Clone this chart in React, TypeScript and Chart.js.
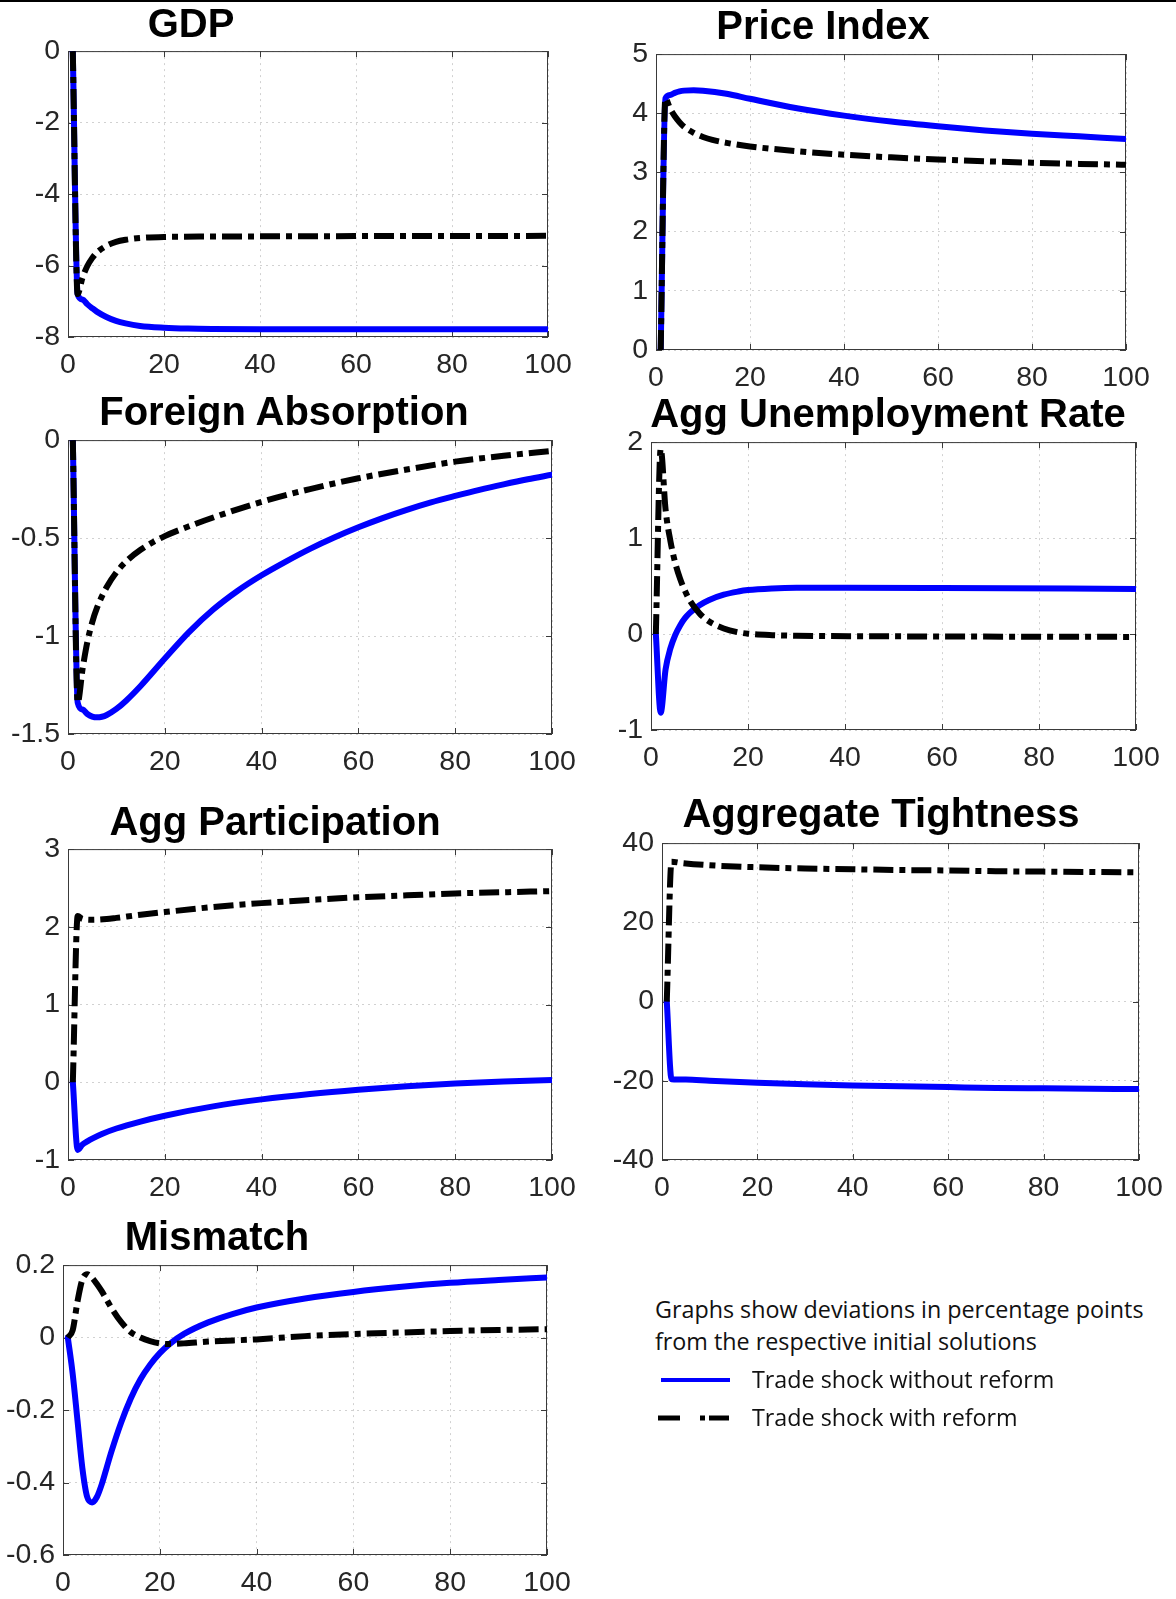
import React, { useEffect, useRef } from "react";
import { Chart, registerables } from "chart.js";

Chart.register(...registerables);

// ---------- DATA ----------
const xTicks = [0, 20, 40, 60, 80, 100];

const gdpYTicks = [-8, -6, -4, -2, 0];
const gdpBlueX = [1, 2, 3, 4, 5, 6, 8, 10, 12, 15, 20, 25, 30, 40, 100];
const gdpBlueY = [0, -6.8, -6.95, -7.08, -7.19, -7.29, -7.44, -7.55, -7.62, -7.69, -7.74, -7.765, -7.775, -7.78, -7.78];
const gdpBlackX = [1, 2, 3, 4, 5, 6, 8, 10, 12, 15, 20, 30, 50, 100];
const gdpBlackY = [0, -6.8, -6.35, -6.02, -5.8, -5.64, -5.45, -5.34, -5.28, -5.23, -5.2, -5.19, -5.18, -5.17];

const priceYTicks = [0, 1, 2, 3, 4, 5];
const priceBlueX = [1, 2, 3, 4, 5, 6, 8, 10, 15, 20, 30, 40, 50, 60, 70, 80, 90, 100];
const priceBlueY = [0, 4.25, 4.31, 4.345, 4.37, 4.383, 4.39, 4.382, 4.33, 4.245, 4.085, 3.96, 3.86, 3.78, 3.71, 3.655, 3.61, 3.565];
const priceBlackX = [1, 2, 3, 4, 5, 6, 8, 10, 12, 15, 20, 30, 40, 50, 60, 70, 80, 90, 100];
const priceBlackY = [0, 4.25, 4.08, 3.95, 3.85, 3.77, 3.67, 3.6, 3.55, 3.5, 3.44, 3.36, 3.3, 3.255, 3.22, 3.19, 3.165, 3.145, 3.13];

const faYTicks = [-1.5, -1, -0.5, 0];
const faBlueX = [1, 2, 3, 4, 5, 6, 7, 8, 10, 12, 15, 20, 25, 30, 35, 40, 45, 50, 55, 60, 65, 70, 75, 80, 85, 90, 95, 100];
const faBlueY = [0, -1.34, -1.375, -1.398, -1.411, -1.415, -1.412, -1.403, -1.372, -1.33, -1.255, -1.115, -0.98, -0.865, -0.77, -0.69, -0.62, -0.555, -0.497, -0.445, -0.398, -0.356, -0.318, -0.285, -0.254, -0.226, -0.2, -0.177];
const faBlackX = [1, 2, 3, 4, 5, 6, 8, 10, 12, 15, 20, 25, 30, 40, 50, 60, 70, 80, 90, 100];
const faBlackY = [0, -1.34, -1.17, -1.03, -0.93, -0.855, -0.75, -0.675, -0.62, -0.56, -0.49, -0.44, -0.395, -0.315, -0.25, -0.195, -0.15, -0.11, -0.08, -0.055];

const urYTicks = [-1, 0, 1, 2];
const urBlueX = [1, 2, 3, 4, 5, 6, 7, 8, 10, 12, 15, 18, 20, 25, 30, 40, 60, 100];
const urBlueY = [0, -0.82, -0.37, -0.15, -0.01, 0.09, 0.165, 0.22, 0.3, 0.355, 0.41, 0.443, 0.458, 0.475, 0.482, 0.483, 0.48, 0.47];
const urBlackX = [1, 2, 3, 4, 5, 6, 7, 8, 10, 12, 15, 18, 20, 25, 30, 50, 100];
const urBlackY = [0, 1.93, 1.3, 0.97, 0.74, 0.575, 0.45, 0.35, 0.215, 0.13, 0.058, 0.018, 0.003, -0.012, -0.018, -0.024, -0.03];

const apYTicks = [-1, 0, 1, 2, 3];
const apBlueX = [1, 2, 3, 4, 5, 7, 10, 15, 20, 30, 40, 50, 60, 70, 80, 90, 100];
const apBlueY = [0, -0.87, -0.8, -0.76, -0.725, -0.665, -0.595, -0.505, -0.43, -0.31, -0.22, -0.15, -0.095, -0.05, -0.015, 0.01, 0.03];
const apBlackX = [1, 2, 3, 5, 8, 10, 15, 20, 30, 40, 50, 60, 70, 80, 90, 100];
const apBlackY = [0, 2.14, 2.1, 2.09, 2.1, 2.115, 2.155, 2.19, 2.255, 2.305, 2.345, 2.38, 2.405, 2.43, 2.445, 2.46];

const atYTicks = [-40, -20, 0, 20, 40];
const atBlueX = [1, 2, 5, 10, 20, 30, 40, 50, 60, 70, 80, 90, 100];
const atBlueY = [0, -19.6, -19.7, -20.0, -20.5, -20.9, -21.2, -21.4, -21.6, -21.8, -21.9, -22.0, -22.1];
const atBlackX = [1, 2, 4, 10, 20, 30, 40, 50, 60, 70, 80, 90, 100];
const atBlackY = [0, 35.3, 35.0, 34.4, 33.9, 33.6, 33.4, 33.2, 33.1, 32.9, 32.8, 32.7, 32.6];

const mmYTicks = [-0.6, -0.4, -0.2, 0, 0.2];
const mmBlueX = [1, 2, 3, 4, 5, 6, 7, 8, 9, 10, 12, 14, 16, 18, 20, 22, 25, 30, 35, 40, 50, 60, 70, 80, 90, 100];
const mmBlueY = [0, -0.1, -0.23, -0.36, -0.44, -0.455, -0.44, -0.405, -0.36, -0.315, -0.235, -0.168, -0.115, -0.075, -0.043, -0.018, 0.01, 0.042, 0.065, 0.083, 0.108, 0.126, 0.14, 0.151, 0.159, 0.166];
const mmBlackX = [1, 2, 3, 4, 5, 6, 7, 8, 10, 12, 14, 16, 18, 20, 22, 25, 30, 40, 50, 60, 70, 80, 90, 100];
const mmBlackY = [0, 0.02, 0.1, 0.16, 0.175, 0.165, 0.148, 0.128, 0.082, 0.043, 0.015, 0.0, -0.01, -0.016, -0.018, -0.016, -0.011, -0.005, 0.004, 0.01, 0.014, 0.018, 0.021, 0.023];

const legendNote = ["Graphs show deviations in percentage points", "from the respective initial solutions"];
const seriesNames = ["Trade shock without reform", "Trade shock with reform"];

// ---------- LAYOUT ----------
type Panel = {
  title: string;
  tx: number;
  ty: number;
  L: number;
  T: number;
  R: number;
  B: number;
  yTicks: number[];
  bx: number[];
  by: number[];
  kx: number[];
  ky: number[];
};

const panels: Panel[] = [
  { title: "GDP", tx: 191, ty: 23, L: 68, T: 51, R: 548, B: 337, yTicks: gdpYTicks, bx: gdpBlueX, by: gdpBlueY, kx: gdpBlackX, ky: gdpBlackY },
  { title: "Price Index", tx: 823, ty: 25, L: 656, T: 54, R: 1126, B: 350, yTicks: priceYTicks, bx: priceBlueX, by: priceBlueY, kx: priceBlackX, ky: priceBlackY },
  { title: "Foreign Absorption", tx: 284, ty: 411, L: 68, T: 440, R: 552, B: 734, yTicks: faYTicks, bx: faBlueX, by: faBlueY, kx: faBlackX, ky: faBlackY },
  { title: "Agg Unemployment Rate", tx: 888, ty: 413, L: 651, T: 442, R: 1136, B: 730, yTicks: urYTicks, bx: urBlueX, by: urBlueY, kx: urBlackX, ky: urBlackY },
  { title: "Agg Participation", tx: 275, ty: 821, L: 68, T: 849, R: 552, B: 1160, yTicks: apYTicks, bx: apBlueX, by: apBlueY, kx: apBlackX, ky: apBlackY },
  { title: "Aggregate Tightness", tx: 881, ty: 813, L: 662, T: 843, R: 1139, B: 1160, yTicks: atYTicks, bx: atBlueX, by: atBlueY, kx: atBlackX, ky: atBlackY },
  { title: "Mismatch", tx: 217, ty: 1236, L: 63, T: 1265, R: 547, B: 1555, yTicks: mmYTicks, bx: mmBlueX, by: mmBlueY, kx: mmBlackX, ky: mmBlackY },
];

const PADL = 90;
const PADT = 25;
const PADR = 36;
const PADB = 44;

const TICK_FONT = { family: '"Liberation Sans", Arial, Helvetica, sans-serif', size: 28.5 };
const TICK_COLOR = "#262626";
const DASHDOT = [20, 6, 6, 6];
const LINE_W = 6;

const framePlugin = {
  id: "matlabFrame",
  beforeDatasetsDraw(chart: any) {
    const { ctx, chartArea } = chart;
    const { left, top, right, bottom } = chartArea;
    const xs = chart.scales.x;
    const ys = chart.scales.y;
    ctx.save();
    ctx.setLineDash([]);
    ctx.strokeStyle = "#3a3a3a";
    ctx.lineWidth = 1;
    ctx.strokeRect(left + 0.5, top + 0.5, right - left - 1, bottom - top - 1);
    const tl = 6;
    ctx.beginPath();
    xs.ticks.forEach((t: any) => {
      const px = Math.round(xs.getPixelForValue(t.value)) + 0.5;
      ctx.moveTo(px, bottom);
      ctx.lineTo(px, bottom - tl);
      ctx.moveTo(px, top);
      ctx.lineTo(px, top + tl);
    });
    ys.ticks.forEach((t: any) => {
      const py = Math.round(ys.getPixelForValue(t.value)) + 0.5;
      ctx.moveTo(left, py);
      ctx.lineTo(left + tl, py);
      ctx.moveTo(right, py);
      ctx.lineTo(right - tl, py);
    });
    ctx.stroke();
    ctx.restore();
  },
};

function toPoints(xs: number[], ys: number[]) {
  return xs.map((x, i) => ({ x, y: ys[i] }));
}

function PanelChart({ p }: { p: Panel }) {
  const ref = useRef<HTMLCanvasElement | null>(null);
  const w = p.R - p.L + PADL + PADR;
  const h = p.B - p.T + PADT + PADB;
  useEffect(() => {
    if (!ref.current) return;
    const yMin = p.yTicks[0];
    const yMax = p.yTicks[p.yTicks.length - 1];
    const chart = new Chart(ref.current, {
      type: "line",
      data: {
        datasets: [
          {
            label: seriesNames[1],
            data: toPoints(p.kx, p.ky),
            borderColor: "#000000",
            borderWidth: LINE_W,
            borderDash: DASHDOT,
            borderCapStyle: "butt",
            borderJoinStyle: "round",
            pointRadius: 0,
            cubicInterpolationMode: "monotone",
            fill: false,
          },
          {
            label: seriesNames[0],
            data: toPoints(p.bx, p.by),
            borderColor: "#0000ff",
            borderWidth: LINE_W,
            borderCapStyle: "round",
            borderJoinStyle: "round",
            pointRadius: 0,
            cubicInterpolationMode: "monotone",
            fill: false,
          },
        ],
      },
      options: {
        animation: false,
        responsive: false,
        maintainAspectRatio: false,
        events: [],
        layout: { padding: { left: 0, top: PADT, right: PADR, bottom: 0 }, autoPadding: false },
        plugins: { legend: { display: false }, tooltip: { enabled: false }, title: { display: false } },
        scales: {
          x: {
            type: "linear",
            min: 0,
            max: 100,
            afterBuildTicks: (s: any) => {
              s.ticks = xTicks.map((v) => ({ value: v }));
            },
            afterFit: (s: any) => {
              s.height = PADB;
            },
            ticks: {
              font: TICK_FONT,
              color: TICK_COLOR,
              padding: 11,
              autoSkip: false,
              maxRotation: 0,
              callback: (v: any) => String(v),
            },
            grid: { color: "rgba(0,0,0,0.18)", lineWidth: 1, drawTicks: false, borderDash: [2, 4] } as any,
            border: { display: false, dash: [2, 4] },
          },
          y: {
            type: "linear",
            min: yMin,
            max: yMax,
            afterBuildTicks: (s: any) => {
              s.ticks = p.yTicks.map((v) => ({ value: v }));
            },
            afterFit: (s: any) => {
              s.width = PADL;
            },
            ticks: {
              font: TICK_FONT,
              color: TICK_COLOR,
              padding: 8,
              autoSkip: false,
              callback: (v: any) => String(v),
            },
            grid: { color: "rgba(0,0,0,0.18)", lineWidth: 1, drawTicks: false, borderDash: [2, 4] } as any,
            border: { display: false, dash: [2, 4] },
          },
        },
      } as any,
      plugins: [framePlugin],
    });
    return () => chart.destroy();
  }, [p]);
  return (
    <>
      <canvas
        ref={ref}
        width={w}
        height={h}
        style={{ position: "absolute", left: p.L - PADL, top: p.T - PADT, width: w, height: h }}
      />
      <div
        style={{
          position: "absolute",
          left: p.tx,
          top: p.ty - 20,
          transform: "translateX(-50%)",
          font: 'bold 40px "Liberation Sans", Arial, Helvetica, sans-serif',
          lineHeight: "40px",
          color: "#000",
          whiteSpace: "nowrap",
        }}
      >
        {p.title}
      </div>
    </>
  );
}

export default function App() {
  const legendFont = '23.3px "Open Sans", "Noto Sans", sans-serif';
  const lineStyle = (top: number, left: number): React.CSSProperties => ({
    position: "absolute",
    left,
    top: top - 17,
    font: legendFont,
    lineHeight: "32px",
    color: "#111",
    whiteSpace: "nowrap",
  });
  return (
    <div
      style={{
        position: "absolute",
        left: 0,
        top: 0,
        width: 1176,
        height: 1599,
        background: "#fff",
        overflow: "hidden",
      }}
    >
      <div style={{ position: "absolute", left: 0, top: 0, width: 1176, height: 2, background: "#000" }} />
      {panels.map((p) => (
        <PanelChart key={p.title} p={p} />
      ))}
      <div style={lineStyle(1310, 655)}>{legendNote[0]}</div>
      <div style={lineStyle(1342, 655)}>{legendNote[1]}</div>
      <svg
        width={1176}
        height={1599}
        style={{ position: "absolute", left: 0, top: 0, pointerEvents: "none" }}
      >
        <line x1={661} y1={1380} x2={730} y2={1380} stroke="#0000ff" strokeWidth={4} />
        <line x1={658} y1={1418} x2={680} y2={1418} stroke="#000" strokeWidth={5} />
        <line x1={700} y1={1418} x2={705} y2={1418} stroke="#000" strokeWidth={5} />
        <line x1={709} y1={1418} x2={729} y2={1418} stroke="#000" strokeWidth={5} />
      </svg>
      <div style={lineStyle(1380, 752)}>{seriesNames[0]}</div>
      <div style={lineStyle(1418, 752)}>{seriesNames[1]}</div>
    </div>
  );
}
